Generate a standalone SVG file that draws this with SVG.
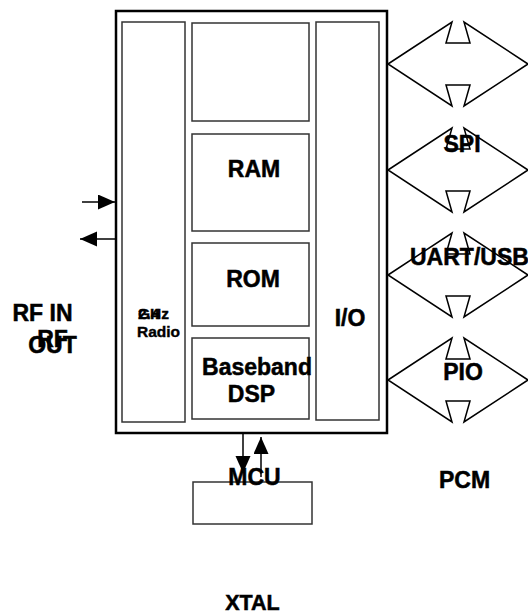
<svg xmlns="http://www.w3.org/2000/svg" width="528" height="614" viewBox="0 0 528 614">
<defs>
<style>
.outer{fill:none;stroke:#000;stroke-width:2.5}
.box{fill:#fff;stroke:#333;stroke-width:1.5}
.lbl{font-family:"Liberation Sans",Arial,sans-serif;font-weight:bold;font-size:23px;fill:#000;stroke:#000;stroke-width:0.5;text-anchor:middle}
.sm{font-size:15.5px;stroke-width:0.4}
.wire{fill:none;stroke:#000;stroke-width:1.5}
.bus{fill:#fff;stroke:#000;stroke-width:1.5;stroke-linejoin:miter}
</style>
<marker id="ah" markerUnits="userSpaceOnUse" markerWidth="18" markerHeight="16" refX="17" refY="7.5" orient="auto">
<path d="M0,0 L17,7.5 L0,15 Z" fill="#000"/>
</marker>
<path id="dbl" d="M388,0 L452,-42 L446,-21 L470,-21 L464,-42 L528,0 L464,42 L470,21 L446,21 L452,42 Z"/>
</defs>
<rect width="528" height="614" fill="#fff"/>
<g id="chip"><rect class="outer" x="116" y="11" width="271" height="422"/></g>
<g id="radio"><rect class="box" x="122" y="22" width="63" height="400"/>
<text class="lbl sm" x="138" y="319" style="text-anchor:start">GHz</text>
<text class="lbl sm" x="138" y="319" style="text-anchor:start">2.4</text>
<text class="lbl sm" x="158.5" y="337">Radio</text></g>
<g id="mem"><rect class="box" x="192" y="23" width="117" height="98"/></g>
<g id="ram"><rect class="box" x="192" y="134" width="117" height="97"/><text class="lbl" x="254" y="177">RAM</text></g>
<g id="rom"><rect class="box" x="192" y="243" width="117" height="83"/><text class="lbl" x="253" y="287">ROM</text></g>
<g id="dsp"><rect class="box" x="192" y="338" width="117" height="81"/><text class="lbl" x="257" y="375">Baseband</text><text class="lbl" x="251.5" y="402">DSP</text></g>
<g id="io"><rect class="box" x="316" y="22" width="63" height="398"/><text class="lbl" x="350" y="326">I/O</text></g>
<g id="mcu"><rect class="box" x="193" y="482" width="119" height="42"/></g>
<g id="connectors">
<line class="wire" x1="82" y1="202" x2="115" y2="202" marker-end="url(#ah)"/>
<line class="wire" x1="115" y1="239" x2="80" y2="239" marker-end="url(#ah)"/>
<line class="wire" x1="243" y1="433" x2="243" y2="473" marker-end="url(#ah)"/>
<line class="wire" x1="261" y1="477" x2="261" y2="437" marker-end="url(#ah)"/>
<use href="#dbl" class="bus" y="64"/>
<use href="#dbl" class="bus" y="170"/>
<use href="#dbl" class="bus" y="275"/>
<use href="#dbl" class="bus" y="380"/>
</g>
<g id="labels">
<text class="lbl" x="42.5" y="321">RF IN</text>
<text class="lbl" x="52.5" y="353">OUT</text>
<text class="lbl" x="52.5" y="347">RF</text>
<text class="lbl" x="254.5" y="485">MCU</text>
<text class="lbl" x="462" y="152">SPI</text>
<text class="lbl" x="410" y="265" style="text-anchor:start">UART/USB</text>
<text class="lbl" x="463" y="380">PIO</text>
<text class="lbl" x="464.5" y="488">PCM</text>
<text class="lbl" x="252.5" y="610" style="font-size:21.5px">XTAL</text>
</g>
</svg>
